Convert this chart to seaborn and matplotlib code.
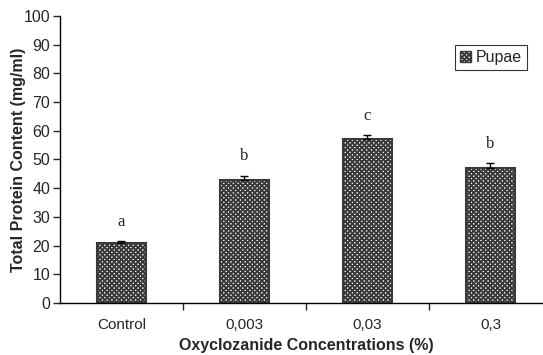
import numpy as np
import pandas as pd
import matplotlib
matplotlib.use("Agg")
import matplotlib.pyplot as plt
import seaborn as sns
from matplotlib.patches import Patch

concentrations = ["Control", "0,003", "0,03", "0,3"]
protein = [20.8, 42.8, 57.0, 47.0]
errors = [0.8, 1.5, 1.5, 1.7]
letters = ["a", "b", "c", "b"]
series_name = "Pupae"

df = pd.DataFrame({"conc": concentrations, "protein": protein})

sns.set_style("white")
plt.rcParams["font.family"] = ["Liberation Sans", "DejaVu Sans"]
plt.rcParams["hatch.linewidth"] = 1.4
HATCH = "xxxxxxx"

fig = plt.figure(figsize=(5.43, 3.55), dpi=100)
ax = fig.add_axes([0.1105, 0.1465, 0.906, 0.8085])

sns.barplot(data=df, x="conc", y="protein", color="white", width=0.4,
            errorbar=None, edgecolor="#3a3a3a", linewidth=1.5, ax=ax)

for p in ax.patches:
    p.set_hatch(HATCH)

xs = np.arange(len(concentrations))
ax.errorbar(xs, protein, yerr=[np.zeros(len(errors)), errors], fmt="none",
            ecolor="black", elinewidth=1, capsize=3, capthick=1)

for x, v, e, t in zip(xs, protein, errors, letters):
    ax.text(x, v + e + 4.0, t, ha="center", va="bottom", fontsize=12,
            family=["Liberation Serif", "DejaVu Serif"])

ax.set_ylim(0, 100)
ax.set_xlim(-0.5, 3.5)
ax.set_yticks(range(0, 101, 10))
ax.set_xticks(xs)
ax.set_xticklabels(concentrations)
ax.set_xticks(np.arange(0.5, 3.5, 1), minor=True)
ax.tick_params(axis="x", which="major", length=0, labelsize=11, pad=11)
ax.tick_params(axis="x", which="minor", length=5, width=1, direction="out", bottom=True)
ax.tick_params(axis="y", length=5, width=1, direction="out", labelsize=11.5, pad=2, left=True)

ax.set_xlabel("Oxyclozanide Concentrations (%)", fontsize=11.5, fontweight="bold", labelpad=4)
ax.set_ylabel("Total Protein Content (mg/ml)", fontsize=11.5, fontweight="bold")
ax.yaxis.set_label_coords(-0.07, 0.5)

sns.despine(ax=ax)
for s in ["left", "bottom"]:
    ax.spines[s].set_color("black")
    ax.spines[s].set_linewidth(1)

handle = Patch(facecolor="white", edgecolor="#3a3a3a", hatch=HATCH, label=series_name)
leg = ax.legend(handles=[handle], loc="upper left", bbox_to_anchor=(0.787, 0.925),
                fontsize=11.5, frameon=True, fancybox=False, handlelength=0.7,
                handleheight=0.7, handletextpad=0.3, borderpad=0.3)
leg.get_frame().set_edgecolor("black")
leg.get_frame().set_linewidth(0.8)

fig.savefig("out.png", dpi=100)
